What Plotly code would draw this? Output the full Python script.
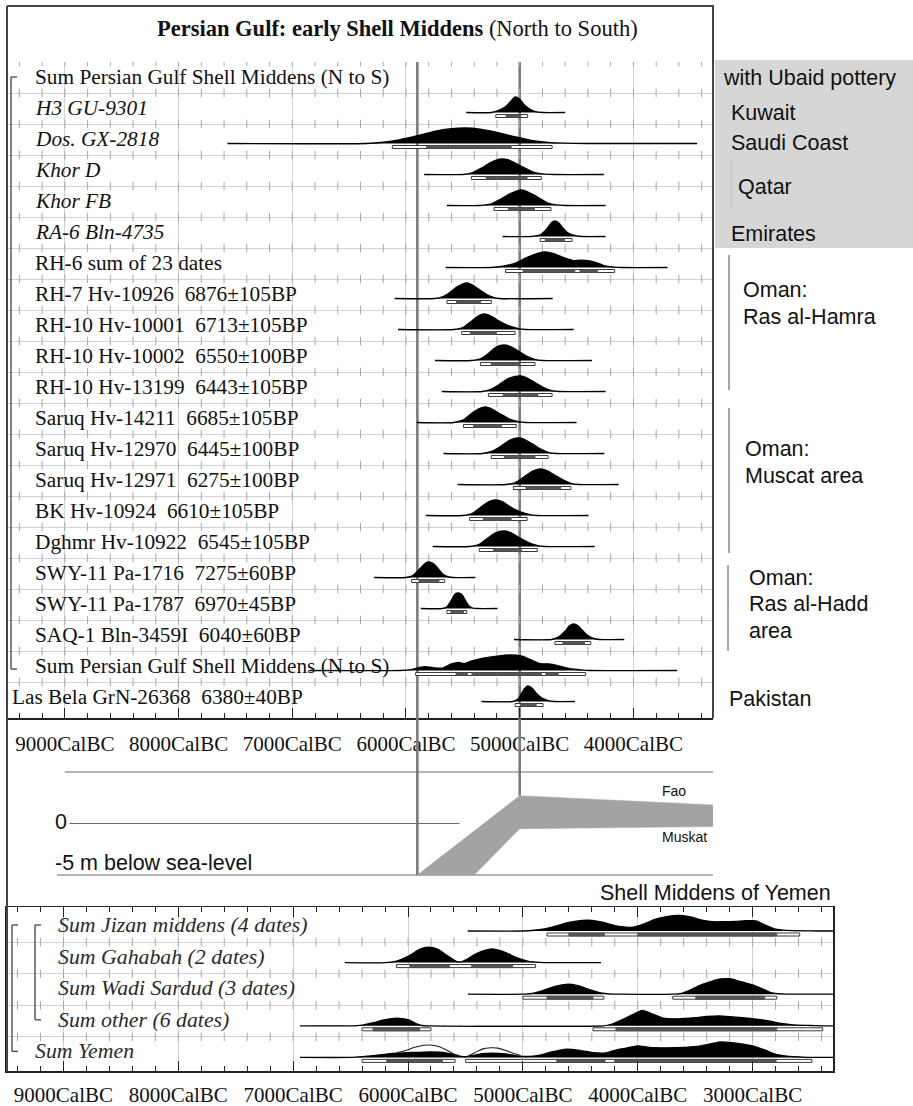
import plotly.graph_objects as go

W, H = 913, 1106
SERIF = "Liberation Serif"
SANS = "Liberation Sans"

# ============================ DATA ============================
# Years are cal BC, densities are relative probability (peak = 1)

# ---- Persian Gulf panel: row labels, top to bottom ----
pg_labels = [
    "Sum Persian Gulf Shell Middens (N to S)",
    "<i>H3 GU-9301</i>",
    "<i>Dos. GX-2818</i>",
    "<i>Khor D</i>",
    "<i>Khor FB</i>",
    "<i>RA-6 Bln-4735</i>",
    "RH-6 sum of 23 dates",
    "RH-7 Hv-10926\u00a0 6876±105BP",
    "RH-10 Hv-10001\u00a0 6713±105BP",
    "RH-10 Hv-10002\u00a0 6550±100BP",
    "RH-10 Hv-13199\u00a0 6443±105BP",
    "Saruq Hv-14211\u00a0 6685±105BP",
    "Saruq Hv-12970\u00a0 6445±100BP",
    "Saruq Hv-12971\u00a0 6275±100BP",
    "BK Hv-10924\u00a0 6610±105BP",
    "Dghmr Hv-10922\u00a0 6545±105BP",
    "SWY-11 Pa-1716\u00a0 7275±60BP",
    "SWY-11 Pa-1787\u00a0 6970±45BP",
    "SAQ-1 Bln-3459I\u00a0 6040±60BP",
    "Sum Persian Gulf Shell Middens (N to S)",
    "Las Bela GrN-26368\u00a0 6380±40BP",
]

h3_yr = [5470, 5250, 5180, 5120, 5070, 5040, 5000, 4960, 4920, 4870, 4800, 4600]
h3_p = [0, 0, 0.15, 0.4, 0.8, 1.0, 0.85, 0.5, 0.25, 0.08, 0, 0]
h3_r95 = [[5210, 4930]]
h3_r68 = [[5120, 4990]]

dos_yr = [7570, 6350, 6200, 6050, 5900, 5750, 5600, 5480, 5350, 5200, 5050, 4900, 4750, 4600, 4400, 3440]
dos_p = [0, 0, 0.08, 0.25, 0.5, 0.78, 0.95, 1.0, 0.93, 0.72, 0.45, 0.2, 0.07, 0.02, 0, 0]
dos_r95 = [[6120, 4715]]
dos_r68 = [[5820, 5075]]

khord_yr = [5840, 5500, 5420, 5340, 5260, 5200, 5160, 5100, 5030, 4950, 4880, 4800, 4700, 4260]
khord_p = [0, 0, 0.1, 0.4, 0.75, 0.95, 1.0, 0.95, 0.7, 0.4, 0.15, 0.04, 0, 0]
khord_r95 = [[5425, 4810]]
khord_r68 = [[5295, 4935]]

khorfb_yr = [5640, 5350, 5250, 5170, 5100, 5040, 4990, 4940, 4880, 4810, 4750, 4680, 4600, 4245]
khorfb_p = [0, 0, 0.1, 0.4, 0.7, 0.9, 1.0, 0.92, 0.7, 0.4, 0.15, 0.04, 0, 0]
khorfb_r95 = [[5225, 4725]]
khorfb_r68 = [[5100, 4870]]

ra6_yr = [5150, 4900, 4820, 4760, 4720, 4690, 4660, 4620, 4570, 4500, 4450, 4245]
ra6_p = [0, 0, 0.1, 0.5, 0.9, 1.0, 0.9, 0.55, 0.2, 0.04, 0, 0]
ra6_r95 = [[4820, 4540]]
ra6_r68 = [[4775, 4605]]

rh6_yr = [5650, 5250, 5150, 5050, 4950, 4850, 4780, 4700, 4600, 4530, 4470, 4400, 4320, 4250, 4170, 4100, 3700]
rh6_p = [0, 0, 0.08, 0.25, 0.6, 0.9, 1.0, 0.9, 0.6, 0.45, 0.47, 0.45, 0.3, 0.1, 0.03, 0, 0]
rh6_r95 = [[5125, 4165]]
rh6_r68 = [[4970, 4515], [4470, 4315]]

rh7_yr = [6100, 5750, 5680, 5620, 5560, 5500, 5460, 5410, 5350, 5290, 5230, 5180, 4710]
rh7_p = [0, 0, 0.1, 0.35, 0.7, 0.95, 1.0, 0.85, 0.55, 0.25, 0.07, 0, 0]
rh7_r95 = [[5640, 5250]]
rh7_r68 = [[5555, 5345]]

rh10a_yr = [6070, 5580, 5500, 5430, 5370, 5310, 5250, 5180, 5100, 5020, 4950, 4525]
rh10a_p = [0, 0, 0.12, 0.5, 0.85, 1.0, 0.85, 0.55, 0.25, 0.08, 0, 0]
rh10a_r95 = [[5510, 5040]]
rh10a_r68 = [[5435, 5205]]

rh10b_yr = [5745, 5420, 5340, 5260, 5200, 5140, 5080, 5010, 4940, 4870, 4800, 4365]
rh10b_p = [0, 0, 0.12, 0.55, 0.9, 1.0, 0.9, 0.6, 0.28, 0.08, 0, 0]
rh10b_r95 = [[5345, 4865]]
rh10b_r68 = [[5250, 4995]]

rh10c_yr = [5685, 5330, 5250, 5180, 5110, 5040, 4990, 4930, 4860, 4790, 4720, 4650, 4245]
rh10c_p = [0, 0, 0.15, 0.45, 0.8, 0.97, 1.0, 0.85, 0.55, 0.25, 0.06, 0, 0]
rh10c_r95 = [[5275, 4715]]
rh10c_r68 = [[5145, 4840]]

saruq1_yr = [5905, 5580, 5500, 5430, 5360, 5300, 5240, 5170, 5090, 5010, 4950, 4500]
saruq1_p = [0, 0, 0.15, 0.55, 0.88, 1.0, 0.85, 0.55, 0.22, 0.06, 0, 0]
saruq1_r95 = [[5495, 5030]]
saruq1_r68 = [[5405, 5160]]

saruq2_yr = [5670, 5330, 5240, 5160, 5090, 5020, 4960, 4890, 4820, 4750, 4680, 4255]
saruq2_p = [0, 0, 0.15, 0.5, 0.85, 1.0, 0.92, 0.62, 0.3, 0.08, 0, 0]
saruq2_r95 = [[5250, 4750]]
saruq2_r68 = [[5135, 4865]]

saruq3_yr = [5545, 5120, 5040, 4960, 4890, 4820, 4760, 4690, 4620, 4550, 4480, 4130]
saruq3_p = [0, 0, 0.12, 0.5, 0.85, 1.0, 0.9, 0.6, 0.3, 0.08, 0, 0]
saruq3_r95 = [[5055, 4550]]
saruq3_r68 = [[4945, 4640]]

bk_yr = [5825, 5500, 5420, 5340, 5270, 5210, 5150, 5080, 5000, 4920, 4850, 4395]
bk_p = [0, 0, 0.12, 0.55, 0.9, 1.0, 0.88, 0.55, 0.25, 0.07, 0, 0]
bk_r95 = [[5440, 4935]]
bk_r68 = [[5320, 5075]]

dghmr_yr = [5765, 5440, 5360, 5280, 5210, 5140, 5080, 5010, 4930, 4850, 4780, 4340]
dghmr_p = [0, 0, 0.12, 0.55, 0.9, 1.0, 0.9, 0.6, 0.28, 0.07, 0, 0]
dghmr_r95 = [[5355, 4845]]
dghmr_r68 = [[5230, 4985]]

swy1716_yr = [6280, 6000, 5940, 5880, 5830, 5800, 5760, 5720, 5680, 5640, 5590, 5390]
swy1716_p = [0, 0, 0.12, 0.55, 0.92, 1.0, 0.9, 0.6, 0.25, 0.07, 0, 0]
swy1716_r95 = [[5950, 5660]]
swy1716_r68 = [[5885, 5710]]

swy1787_yr = [5870, 5680, 5640, 5600, 5570, 5540, 5510, 5480, 5450, 5420, 5380, 5195]
swy1787_p = [0, 0, 0.12, 0.55, 0.92, 1.0, 0.9, 0.55, 0.2, 0.05, 0, 0]
swy1787_r95 = [[5640, 5465]]
swy1787_r68 = [[5605, 5495]]

saq_yr = [5050, 4720, 4660, 4600, 4560, 4525, 4490, 4450, 4400, 4350, 4300, 4080]
saq_p = [0, 0, 0.15, 0.55, 0.9, 1.0, 0.9, 0.6, 0.25, 0.07, 0, 0]
saq_r95 = [[4690, 4375]]
saq_r68 = [[4620, 4430]]

sumpg_yr = [6850, 6050, 5960, 5880, 5830, 5760, 5680, 5600, 5540, 5490, 5420, 5320,
            5200, 5080, 4980, 4900, 4820, 4740, 4660, 4560, 4460, 4380, 3615]
sumpg_p = [0, 0, 0.05, 0.2, 0.25, 0.18, 0.15, 0.42, 0.52, 0.45, 0.62, 0.8,
           0.93, 1.0, 0.92, 0.68, 0.45, 0.42, 0.3, 0.12, 0.04, 0, 0]
sumpg_r95 = [[5915, 4420]]
sumpg_r68 = [[5560, 5460], [5420, 4810], [4770, 4660]]

lasbela_yr = [5335, 5060, 5010, 4970, 4930, 4890, 4850, 4800, 4750, 4700, 4515]
lasbela_p = [0, 0, 0.2, 0.7, 1.0, 0.85, 0.5, 0.2, 0.06, 0, 0]
lasbela_r95 = [[5040, 4795]]
lasbela_r68 = [[4995, 4855]]

# ---- Sea level (m) ----
sea_ref_levels = [5, 0, -5]
sea_ref_from = [9000, 8960, 9070]
sea_ref_to = [3300, 5530, 3300]
fao_yr = [5900, 5000, 3300]
fao_m = [-5, 2.7, 1.8]
muskat_yr = [5400, 5000, 3300]
muskat_m = [-5, -0.5, -0.3]
marker_years = [5900, 5000]

# ---- Yemen panel ----
ye_labels = [
    "<i>Sum Jizan middens (4 dates)</i>",
    "<i>Sum Gahabah (2 dates)</i>",
    "<i>Sum Wadi Sardud (3 dates)</i>",
    "<i>Sum other (6 dates)</i>",
    "<i>Sum Yemen</i>",
]

jizan_yr = [5480, 5000, 4900, 4800, 4700, 4600, 4480, 4400, 4300, 4200, 4100, 4040, 3950, 3850,
            3750, 3650, 3550, 3450, 3350, 3250, 3150, 3050, 2970, 2880, 2800, 2700, 2550, 2450, 2300]
jizan_p = [0, 0, 0.05, 0.15, 0.35, 0.55, 0.68, 0.68, 0.55, 0.35, 0.25, 0.25, 0.45, 0.75,
           0.92, 1.0, 0.92, 0.72, 0.6, 0.6, 0.62, 0.66, 0.65, 0.35, 0.12, 0.04, 0.01, 0, 0]
jizan_r95 = [[4790, 2590]]
jizan_r68 = [[4600, 4290], [4000, 2790]]

gahabah_yr = [6550, 6200, 6100, 6000, 5900, 5820, 5740, 5650, 5580, 5540, 5480, 5400, 5300,
              5250, 5150, 5050, 4950, 4850, 4750, 4320]
gahabah_p = [0, 0, 0.1, 0.4, 0.85, 1.0, 0.85, 0.4, 0.08, 0.05, 0.25, 0.6, 0.85,
             0.87, 0.65, 0.3, 0.08, 0.02, 0, 0]
gahabah_r95 = [[6100, 4890]]
gahabah_r68 = [[5985, 5640], [5445, 5090]]

sardud_yr = [5480, 5000, 4920, 4820, 4720, 4620, 4520, 4420, 4320, 4250, 4150, 3700, 3620, 3550,
             3450, 3350, 3280, 3200, 3120, 3000, 2900, 2830, 2750, 2650, 2300]
sardud_p = [0, 0, 0.05, 0.25, 0.5, 0.64, 0.55, 0.3, 0.08, 0.02, 0, 0, 0.05, 0.25,
            0.6, 0.85, 0.98, 1.0, 0.85, 0.6, 0.3, 0.08, 0.02, 0, 0]
sardud_r95 = [[5000, 4295], [3695, 2790]]
sardud_r68 = [[4790, 4390], [3495, 2895]]

other_yr = [6940, 6500, 6400, 6300, 6200, 6100, 6000, 5930, 5880, 5800, 4300, 4230, 4150, 4050,
            3960, 3870, 3780, 3650, 3500, 3400, 3290, 3180, 3050, 2950, 2850, 2750, 2650, 2500,
            2400, 2300]
other_p = [0, 0, 0.05, 0.2, 0.4, 0.5, 0.4, 0.15, 0.02, 0, 0, 0.1, 0.35, 0.7,
           1.0, 0.75, 0.5, 0.45, 0.52, 0.6, 0.64, 0.58, 0.5, 0.42, 0.3, 0.15, 0.06, 0.02,
           0, 0]
other_r95 = [[6400, 5800], [4390, 2390]]
other_r68 = [[6305, 5900], [4190, 2790]]

sumye_yr = [6940, 6500, 6400, 6300, 6200, 6100, 6000, 5900, 5800, 5700, 5620, 5560, 5500, 5420,
            5350, 5270, 5150, 5050, 4950, 4850, 4750, 4620, 4500, 4380, 4290, 4200, 4100, 4000,
            3900, 3750, 3600, 3450, 3350, 3280, 3180, 3080, 2980, 2900, 2820, 2720, 2600, 2450,
            2300]
sumye_p = [0, 0, 0.05, 0.12, 0.2, 0.28, 0.3, 0.33, 0.35, 0.33, 0.22, 0.08, 0.05, 0.15,
           0.25, 0.28, 0.22, 0.1, 0.06, 0.15, 0.35, 0.53, 0.45, 0.3, 0.28, 0.45, 0.6, 0.75,
           0.65, 0.62, 0.65, 0.75, 0.9, 1.0, 0.95, 0.85, 0.7, 0.5, 0.25, 0.1, 0.04, 0,
           0]
sumye_r95 = [[6400, 5590], [5500, 2485]]
sumye_r68 = [[6185, 5700], [4705, 4285], [4200, 2795]]
# unfilled outline curves over the Sum Yemen distribution
sumye_o1_yr = [6100, 6020, 5940, 5860, 5800, 5740, 5670, 5600, 5550]
sumye_o1_p = [0.3, 0.45, 0.65, 0.78, 0.8, 0.72, 0.5, 0.22, 0.1]
sumye_o2_yr = [5480, 5420, 5350, 5280, 5220, 5150, 5080, 5020]
sumye_o2_p = [0.08, 0.3, 0.55, 0.62, 0.6, 0.45, 0.25, 0.12]

# ---- table built from the named lists ----
pg_rows = [
    None,
    (h3_yr, h3_p, h3_r95, h3_r68),
    (dos_yr, dos_p, dos_r95, dos_r68),
    (khord_yr, khord_p, khord_r95, khord_r68),
    (khorfb_yr, khorfb_p, khorfb_r95, khorfb_r68),
    (ra6_yr, ra6_p, ra6_r95, ra6_r68),
    (rh6_yr, rh6_p, rh6_r95, rh6_r68),
    (rh7_yr, rh7_p, rh7_r95, rh7_r68),
    (rh10a_yr, rh10a_p, rh10a_r95, rh10a_r68),
    (rh10b_yr, rh10b_p, rh10b_r95, rh10b_r68),
    (rh10c_yr, rh10c_p, rh10c_r95, rh10c_r68),
    (saruq1_yr, saruq1_p, saruq1_r95, saruq1_r68),
    (saruq2_yr, saruq2_p, saruq2_r95, saruq2_r68),
    (saruq3_yr, saruq3_p, saruq3_r95, saruq3_r68),
    (bk_yr, bk_p, bk_r95, bk_r68),
    (dghmr_yr, dghmr_p, dghmr_r95, dghmr_r68),
    (swy1716_yr, swy1716_p, swy1716_r95, swy1716_r68),
    (swy1787_yr, swy1787_p, swy1787_r95, swy1787_r68),
    (saq_yr, saq_p, saq_r95, saq_r68),
    (sumpg_yr, sumpg_p, sumpg_r95, sumpg_r68),
    (lasbela_yr, lasbela_p, lasbela_r95, lasbela_r68),
]
ye_rows = [
    (jizan_yr, jizan_p, jizan_r95, jizan_r68),
    (gahabah_yr, gahabah_p, gahabah_r95, gahabah_r68),
    (sardud_yr, sardud_p, sardud_r95, sardud_r68),
    (other_yr, other_p, other_r95, other_r68),
    (sumye_yr, sumye_p, sumye_r95, sumye_r68),
]

# ============================ LAYOUT HELPERS ============================
def fx(px):
    return px / W


def fy(px):
    return 1 - px / H


# top panel geometry (rows of 31 px)
PG_TOP, PG_BOT = 62, 718
PG_ROW = 31.0
PG_YMAX = (PG_BOT - PG_TOP) / PG_ROW
PG_BASE = 19.5 / PG_ROW
PG_LAB = 15.0 / PG_ROW
PG_PEAK = 15.5 / PG_ROW

# Yemen panel geometry
YE_TOP, YE_BOT = 907, 1071
YE_ROW = 31.6
YE_Y0 = -3.5 / YE_ROW
YE_YMAX = (YE_BOT - 910.5) / YE_ROW
YE_BASE = 20.5 / YE_ROW
YE_LAB = 14.5 / YE_ROW
YE_PEAK = 15.5 / YE_ROW

fig = go.Figure()

# dark reference lines (behind everything)
for yv in marker_years:
    fig.add_trace(go.Scatter(x=[yv, yv], y=[0, PG_YMAX], mode="lines",
                             line=dict(color="#7b7b7b", width=2.6),
                             xaxis="x", yaxis="y", hoverinfo="skip"))
for yv, top in zip(marker_years, fao_m[:2]):
    fig.add_trace(go.Scatter(x=[yv, yv], y=[10.3, top], mode="lines",
                             line=dict(color="#7b7b7b", width=2.6),
                             xaxis="x2", yaxis="y2", hoverinfo="skip"))

# grid crosses
cx, cy = [], []
for r in range(0, len(pg_labels)):
    for yr in range(9400, 3300, -200):
        cx.append(yr)
        cy.append(r)
fig.add_trace(go.Scatter(x=cx, y=cy, mode="markers",
                         marker=dict(symbol="line-ns", size=6,
                                     line=dict(color="#a8a8a8", width=1)),
                         xaxis="x", yaxis="y", hoverinfo="skip"))
cx, cy = [], []
for r in range(1, len(ye_labels)):
    for yr in range(9400, 2300, -200):
        cx.append(yr)
        cy.append(r)
fig.add_trace(go.Scatter(x=cx, y=cy, mode="markers",
                         marker=dict(symbol="line-ns", size=6,
                                     line=dict(color="#a8a8a8", width=1)),
                         xaxis="x3", yaxis="y3", hoverinfo="skip"))


def add_dist(row, data, base_off, peak, rowh, xa, ya):
    yr, p, r95, r68 = data
    base = row + base_off
    fig.add_trace(go.Scatter(
        x=yr, y=[base - v * peak for v in p], mode="lines",
        line=dict(color="black", width=1.3, shape="spline", smoothing=0.6),
        fill="toself", fillcolor="black", xaxis=xa, yaxis=ya, hoverinfo="skip"))
    b0 = base + 2.0 / rowh
    b1 = base + 5.0 / rowh
    for a, b in r95:
        fig.add_trace(go.Scatter(
            x=[a, b, b, a, a], y=[b0, b0, b1, b1, b0], mode="lines",
            line=dict(color="#3a3a3a", width=1), fill="toself", fillcolor="white",
            xaxis=xa, yaxis=ya, hoverinfo="skip"))
    for a, b in r68:
        fig.add_trace(go.Scatter(
            x=[a, b, b, a, a], y=[b0, b0, b1, b1, b0], mode="lines",
            line=dict(color="#4a4a4a", width=0.8), fill="toself", fillcolor="#555555",
            xaxis=xa, yaxis=ya, hoverinfo="skip"))


for i, data in enumerate(pg_rows):
    if data is not None:
        add_dist(i, data, PG_BASE, PG_PEAK, PG_ROW, "x", "y")

for i, data in enumerate(ye_rows):
    add_dist(i, data, YE_BASE, YE_PEAK, YE_ROW, "x3", "y3")

ye_sum_row = len(ye_rows) - 1
for oyr, op in [(sumye_o1_yr, sumye_o1_p), (sumye_o2_yr, sumye_o2_p)]:
    fig.add_trace(go.Scatter(
        x=oyr, y=[ye_sum_row + YE_BASE - v * YE_PEAK for v in op], mode="lines",
        line=dict(color="#222", width=1.1, shape="spline", smoothing=0.8),
        xaxis="x3", yaxis="y3", hoverinfo="skip"))

# sea-level panel
for lvl, a, b in zip(sea_ref_levels, sea_ref_from, sea_ref_to):
    fig.add_trace(go.Scatter(x=[a, b], y=[lvl, lvl], mode="lines",
                             line=dict(color="#6a6a6a", width=1.2),
                             xaxis="x2", yaxis="y2", hoverinfo="skip"))
fig.add_trace(go.Scatter(
    x=fao_yr + muskat_yr[::-1] + [fao_yr[0]],
    y=fao_m + muskat_m[::-1] + [fao_m[0]],
    mode="lines", line=dict(color="#a3a3a3", width=0.5), fill="toself",
    fillcolor="#a3a3a3", xaxis="x2", yaxis="y2", hoverinfo="skip"))

# ============================ AXES ============================
tick_font = dict(family=SERIF, size=21, color="#111")
common_x = dict(tickmode="linear", tick0=0, dtick=1000, tickformat="d",
                ticksuffix="CalBC", ticks="inside", ticklen=10, tickwidth=1,
                tickcolor="#222", showline=True, linecolor="#222", linewidth=1.5,
                showgrid=True, gridcolor="#d2d2d2", gridwidth=1, zeroline=False,
                tickfont=tick_font,
                minor=dict(tick0=0, dtick=200, ticks="inside", ticklen=5,
                           tickcolor="#222", showgrid=False))

fig.update_layout(
    width=W, height=H, margin=dict(l=0, r=0, t=0, b=0),
    paper_bgcolor="white", plot_bgcolor="white", showlegend=False,
    xaxis=dict(domain=[fx(8), fx(713)], range=[9500, 3300], anchor="y",
               ticklabelstandoff=6, **common_x),
    yaxis=dict(domain=[fy(PG_BOT), fy(PG_TOP)], range=[PG_YMAX, 0], anchor="x",
               tickmode="array", tickvals=list(range(0, len(pg_labels))),
               showticklabels=False, ticks="", showgrid=True, gridcolor="#d2d2d2",
               zeroline=False, showline=False),
    xaxis2=dict(domain=[fx(8), fx(713)], range=[9500, 3300], anchor="y2", visible=False),
    yaxis2=dict(domain=[fy(900), fy(PG_BOT)], range=[(823.5 - 900) / 10.3, (823.5 - PG_BOT) / 10.3],
                anchor="x2", visible=False),
    xaxis3=dict(domain=[fx(6), fx(833)], range=[9500, 2300], anchor="y3",
                mirror="ticks", ticklabelstandoff=4, **common_x),
    yaxis3=dict(domain=[fy(YE_BOT), fy(YE_TOP)], range=[YE_YMAX, YE_Y0], anchor="x3",
                tickmode="array", tickvals=list(range(1, len(ye_labels))),
                showticklabels=False, ticks="", showgrid=True, gridcolor="#d2d2d2",
                zeroline=False, showline=True, mirror=True, linecolor="#222",
                linewidth=1.5),
)

# ============================ ANNOTATIONS ============================
ann = []
ann.append(dict(xref="paper", yref="paper", x=fx(397), y=fy(28),
                text="<b>Persian Gulf: early Shell Middens</b> (North to South)",
                showarrow=False, xanchor="center", yanchor="middle",
                font=dict(family=SERIF, size=22.5, color="#111")))
for i, lab in enumerate(pg_labels):
    xpos = 10 if i == len(pg_labels) - 1 else 33
    ann.append(dict(xref="paper", yref="y", x=fx(xpos), y=i + PG_LAB, text=lab,
                    showarrow=False, xanchor="left", yanchor="middle",
                    font=dict(family=SERIF, size=21.3, color="#111")))
for i, lab in enumerate(ye_labels):
    xpos = 33 if i == len(ye_labels) - 1 else 56
    ann.append(dict(xref="paper", yref="y3", x=fx(xpos), y=i + YE_LAB, text=lab,
                    showarrow=False, xanchor="left", yanchor="middle",
                    font=dict(family=SERIF, size=21.8, color="#2a2a2a")))

side_texts = [
    ("with Ubaid pottery", 721, 78), ("Kuwait", 729, 113), ("Saudi Coast", 729, 143),
    ("Qatar", 736, 187), ("Emirates", 729, 234),
    ("Oman:", 741, 290), ("Ras al-Hamra", 741, 317),
    ("Oman:", 743, 449), ("Muscat area", 743, 476),
    ("Oman:", 747, 578), ("Ras al-Hadd", 747, 604), ("area", 747, 631),
    ("Pakistan", 727, 699),
    ("0", 53, 822), ("-5 m below sea-level", 53, 863),
]
for t, xx, yy in side_texts:
    ann.append(dict(xref="paper", yref="paper", x=fx(xx), y=fy(yy), text=t,
                    showarrow=False, xanchor="left", yanchor="middle",
                    font=dict(family=SANS, size=21.5, color="#111")))
for t, xx, yy in [("Fao", 660, 791), ("Muskat", 660, 837)]:
    ann.append(dict(xref="paper", yref="paper", x=fx(xx), y=fy(yy), text=t,
                    showarrow=False, xanchor="left", yanchor="middle",
                    font=dict(family=SANS, size=14, color="#111")))
ann.append(dict(xref="paper", yref="paper", x=fx(833), y=fy(893),
                text="Shell Middens of Yemen", showarrow=False,
                xanchor="right", yanchor="middle",
                font=dict(family=SANS, size=21.5, color="#111")))
fig.update_layout(annotations=ann)

# ============================ SHAPES ============================
shapes = []


def pline(x0, y0, x1, y1, color="#444", width=2):
    shapes.append(dict(type="line", xref="paper", yref="paper",
                       x0=fx(x0), y0=fy(y0), x1=fx(x1), y1=fy(y1),
                       line=dict(color=color, width=width)))


# frame of the Persian Gulf figure
pline(7, 6, 7, 1071)
pline(7, 6, 714, 6)
pline(713, 6, 713, 718)
# gray region box
shapes.append(dict(type="rect", xref="paper", yref="paper", x0=fx(715), x1=fx(913),
                   y0=fy(248), y1=fy(60), fillcolor="#d6d6d6", line=dict(width=0),
                   layer="below"))
pline(731, 158, 731, 210, "#c0c0c0", 1)
# group lines
pline(729, 255, 729, 390, "#8a8a8a", 1.5)
pline(729, 408, 729, 553, "#8a8a8a", 1.5)
pline(728, 565, 728, 651, "#8a8a8a", 1.5)


def bracket(x, yref, y0, y1, arm=6):
    shapes.append(dict(type="line", xref="paper", yref=yref, x0=fx(x), x1=fx(x),
                       y0=y0, y1=y1, line=dict(color="#444", width=1.3)))
    for yy in (y0, y1):
        shapes.append(dict(type="line", xref="paper", yref=yref, x0=fx(x), x1=fx(x + arm),
                           y0=yy, y1=yy, line=dict(color="#444", width=1.3)))


bracket(11, "y", 0 + PG_LAB, len(pg_labels) - 2 + PG_LAB + 0.1)
bracket(12, "y3", 0 + YE_LAB, len(ye_labels) - 1 + YE_LAB)
bracket(35, "y3", 0 + YE_LAB, len(ye_labels) - 2 + YE_LAB)
fig.update_layout(shapes=shapes)

# remove the page's default body margin so the figure sits at the window origin
fig.write_html("out.html",
               config={"displayModeBar": False, "staticPlot": True},
               post_script="document.body.style.margin='0';document.body.style.overflow='hidden';")
